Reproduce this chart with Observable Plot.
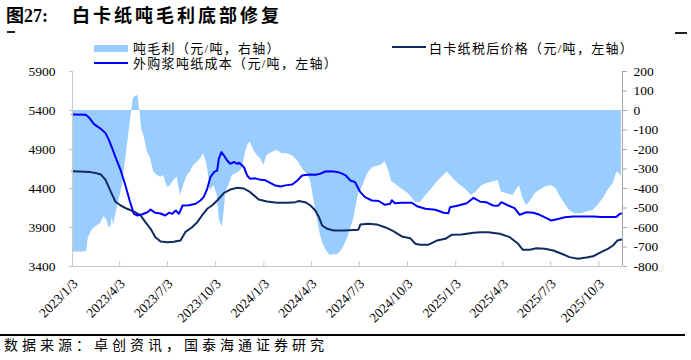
<!DOCTYPE html>
<html><head><meta charset="utf-8">
<script src="https://cdn.jsdelivr.net/npm/d3@7"></script>
<script src="https://cdn.jsdelivr.net/npm/@observablehq/plot@0.6"></script>
<style>
body{margin:0;background:#fff;}
#wrap{position:relative;width:691px;height:360px;overflow:hidden;font-family:"Liberation Serif","Noto Sans CJK SC",serif;color:#000;}
#wrap svg{position:absolute;left:0;top:0;}
.abs{position:absolute;white-space:nowrap;z-index:2;}
.leg{font-size:13px;line-height:14px;letter-spacing:1.3px;color:#000;}
</style></head><body><div id="wrap">
<div class="abs" style="left:6px;top:6px;font-size:18px;line-height:20px;font-weight:bold;">图27:</div>
<div class="abs" style="left:72px;top:6px;font-size:18px;line-height:20px;font-weight:bold;letter-spacing:3px;">白卡纸吨毛利底部修复</div>
<div class="abs" style="left:7px;top:31px;width:8px;height:2px;background:#222;"></div>
<div class="abs" style="left:675px;top:32px;width:12px;height:2px;background:#222;"></div>
<div class="abs" style="left:94px;top:45px;width:34px;height:7px;background:#99CCFF;"></div>
<div class="abs leg" style="left:133px;top:42px;">吨毛利（元/吨，右轴）</div>
<div class="abs" style="left:94px;top:62px;width:34px;height:2px;background:#0000FF;"></div>
<div class="abs leg" style="left:133px;top:57px;">外购浆吨纸成本（元/吨，左轴）</div>
<div class="abs" style="left:392px;top:46px;width:34px;height:2px;background:#0F2B5F;"></div>
<div class="abs leg" style="left:429px;top:42px;">白卡纸税后价格（元/吨，左轴）</div>
<div class="abs" style="left:0px;top:334px;width:685px;height:2px;background:#000;"></div>
<div class="abs" style="left:4px;top:338px;font-size:14px;line-height:15px;letter-spacing:4px;">数据来源：卓创资讯，国泰海通证券研究</div>
</div>
<script>
const marginDates = ["2023-01-03","2023-01-19","2023-01-30","2023-02-02","2023-02-10","2023-02-20","2023-02-26","2023-03-04","2023-03-07","2023-03-10","2023-03-13","2023-03-17","2023-03-20","2023-03-22","2023-03-26","2023-04-01","2023-04-08","2023-04-14","2023-04-20","2023-04-26","2023-04-29","2023-05-03","2023-05-08","2023-05-11","2023-05-15","2023-05-19","2023-05-26","2023-06-01","2023-06-07","2023-06-14","2023-06-20","2023-06-26","2023-07-03","2023-07-09","2023-07-15","2023-07-22","2023-07-25","2023-07-28","2023-08-03","2023-08-10","2023-08-16","2023-08-22","2023-08-29","2023-09-04","2023-09-10","2023-09-17","2023-09-23","2023-09-30","2023-10-06","2023-10-10","2023-10-16","2023-10-20","2023-10-22","2023-10-28","2023-11-04","2023-11-10","2023-11-16","2023-11-23","2023-11-29","2023-12-03","2023-12-08","2023-12-15","2023-12-21","2023-12-28","2024-01-03","2024-01-09","2024-01-19","2024-01-28","2024-02-07","2024-02-16","2024-02-26","2024-03-07","2024-03-13","2024-03-19","2024-03-26","2024-04-01","2024-04-07","2024-04-14","2024-04-20","2024-04-26","2024-05-03","2024-05-09","2024-05-15","2024-05-22","2024-05-28","2024-06-03","2024-06-10","2024-06-16","2024-06-22","2024-06-28","2024-07-02","2024-07-08","2024-07-18","2024-07-24","2024-07-31","2024-08-09","2024-08-15","2024-08-21","2024-08-28","2024-09-03","2024-09-09","2024-09-22","2024-10-05","2024-10-18","2024-10-27","2024-11-06","2024-11-18","2024-12-01","2024-12-14","2024-12-18","2024-12-26","2025-01-08","2025-01-21","2025-02-02","2025-02-12","2025-02-22","2025-03-06","2025-03-15","2025-03-25","2025-03-31","2025-04-10","2025-04-22","2025-05-02","2025-05-05","2025-05-11","2025-05-18","2025-05-24","2025-06-03","2025-06-12","2025-06-22","2025-07-04","2025-07-14","2025-07-20","2025-07-30","2025-08-08","2025-08-18","2025-08-31","2025-09-09","2025-09-22","2025-10-01","2025-10-11","2025-10-20","2025-10-30","2025-11-05","2025-11-09","2025-11-15"];
const marginValues = [-725,-726,-724,-656,-610,-590,-578,-545,-554,-565,-598,-600,-547,-590,-540,-470,-385,-260,-130,0,60,73,77,10,-94,-128,-214,-248,-316,-333,-342,-333,-393,-385,-359,-342,-393,-436,-385,-333,-316,-282,-265,-248,-222,-282,-410,-385,-436,-560,-598,-500,-419,-385,-333,-325,-316,-299,-214,-180,-162,-205,-231,-248,-282,-231,-214,-205,-222,-222,-231,-256,-282,-308,-325,-360,-453,-556,-641,-692,-726,-744,-740,-738,-725,-700,-660,-610,-560,-480,-420,-400,-330,-305,-290,-285,-280,-262,-308,-367,-375,-402,-427,-470,-472,-440,-402,-359,-325,-315,-340,-376,-402,-436,-415,-385,-372,-367,-359,-419,-425,-436,-393,-390,-450,-487,-470,-427,-410,-393,-385,-402,-436,-478,-513,-530,-530,-521,-513,-487,-453,-410,-376,-325,-316,-340];

const priceDates = ["2023-01-03","2023-02-06","2023-02-16","2023-02-26","2023-03-07","2023-03-17","2023-03-26","2023-04-05","2023-04-17","2023-04-30","2023-05-13","2023-05-22","2023-06-01","2023-06-10","2023-06-20","2023-07-03","2023-07-15","2023-07-28","2023-08-06","2023-08-19","2023-08-29","2023-09-07","2023-09-17","2023-09-26","2023-10-06","2023-10-19","2023-10-31","2023-11-13","2023-11-26","2023-12-08","2023-12-24","2024-01-09","2024-01-28","2024-02-16","2024-03-03","2024-03-10","2024-03-22","2024-04-01","2024-04-10","2024-04-17","2024-04-23","2024-05-03","2024-05-15","2024-06-03","2024-06-13","2024-07-01","2024-07-05","2024-07-20","2024-08-05","2024-08-21","2024-09-06","2024-09-22","2024-10-08","2024-10-18","2024-10-27","2024-11-12","2024-11-28","2024-12-14","2024-12-26","2025-01-14","2025-02-06","2025-02-19","2025-03-06","2025-03-28","2025-04-16","2025-05-02","2025-05-11","2025-05-24","2025-06-06","2025-06-22","2025-07-08","2025-07-24","2025-08-08","2025-08-24","2025-09-09","2025-09-22","2025-10-07","2025-10-20","2025-10-30","2025-11-07","2025-11-15"];
const priceValues = [4620,4610,4600,4580,4510,4360,4230,4182,4140,4105,4054,3968,3883,3776,3720,3712,3718,3733,3840,3904,3968,4054,4140,4182,4246,4345,4387,4409,4400,4353,4259,4233,4217,4217,4225,4240,4225,4182,4118,4032,3926,3883,3862,3862,3866,3871,3938,3947,3940,3904,3853,3785,3763,3691,3678,3680,3733,3755,3806,3810,3832,3840,3840,3819,3776,3691,3614,3614,3635,3628,3605,3563,3520,3499,3515,3530,3584,3627,3669,3733,3746];

const costDates = ["2023-01-03","2023-01-28","2023-02-03","2023-02-13","2023-02-26","2023-03-07","2023-03-13","2023-03-20","2023-03-26","2023-04-05","2023-04-14","2023-04-22","2023-04-30","2023-05-07","2023-05-16","2023-05-26","2023-06-01","2023-06-10","2023-06-20","2023-06-29","2023-07-06","2023-07-12","2023-07-19","2023-07-25","2023-08-01","2023-08-13","2023-08-26","2023-09-04","2023-09-10","2023-09-17","2023-09-23","2023-09-30","2023-10-06","2023-10-09","2023-10-14","2023-10-19","2023-10-25","2023-10-31","2023-11-07","2023-11-13","2023-11-17","2023-11-26","2023-12-02","2023-12-08","2023-12-18","2023-12-28","2024-01-06","2024-01-16","2024-01-25","2024-02-04","2024-02-13","2024-02-26","2024-03-07","2024-03-16","2024-03-29","2024-04-10","2024-04-20","2024-04-29","2024-05-09","2024-05-19","2024-05-28","2024-06-07","2024-06-16","2024-06-25","2024-07-05","2024-07-14","2024-07-27","2024-08-09","2024-08-21","2024-08-31","2024-09-03","2024-09-09","2024-09-22","2024-10-11","2024-10-21","2024-11-06","2024-11-25","2024-12-11","2024-12-20","2024-12-23","2025-01-08","2025-01-24","2025-02-06","2025-02-19","2025-03-02","2025-03-15","2025-03-25","2025-03-31","2025-04-13","2025-04-25","2025-05-05","2025-05-18","2025-05-31","2025-06-12","2025-06-25","2025-07-04","2025-07-17","2025-07-30","2025-08-15","2025-09-03","2025-09-22","2025-10-07","2025-10-23","2025-11-05","2025-11-12","2025-11-15"];
const costValues = [5350,5345,5314,5225,5165,5110,5030,4910,4801,4631,4438,4246,4075,4054,4070,4096,4130,4088,4080,4054,4090,4075,4118,4075,4182,4185,4204,4246,4289,4396,4545,4609,4631,4781,4866,4823,4759,4717,4740,4717,4730,4673,4567,4524,4530,4511,4505,4468,4438,4426,4440,4451,4503,4567,4580,4575,4590,4618,4622,4615,4600,4567,4503,4481,4353,4289,4246,4240,4191,4205,4250,4210,4217,4217,4173,4140,4127,4090,4084,4160,4182,4212,4281,4230,4225,4182,4180,4225,4182,4148,4063,4096,4090,4063,4020,3990,4010,4032,4040,4040,4040,4035,4035,4035,4075,4080];

const xTickLabels = ["2023-01-03","2023-04-03","2023-07-03","2023-10-03","2024-01-03","2024-04-03","2024-07-03","2024-10-03","2025-01-03","2025-04-03","2025-07-03","2025-10-03"];
const leftTicks = [3400,3900,4400,4900,5400,5900];
const rightTicks = [200,100,0,-100,-200,-300,-400,-500,-600,-700,-800];

const parse = d3.utcParse("%Y-%m-%d");
const margin = marginDates.map((d,i)=>({date:parse(d), v:marginValues[i]}));
const price = priceDates.map((d,i)=>({date:parse(d), v:priceValues[i]}));
const cost = costDates.map((d,i)=>({date:parse(d), v:costValues[i]}));
const xTicks = xTickLabels.map(parse);
const start = parse("2023-01-03"), end = parse("2025-11-17");
// right axis (-800..200) mapped onto left axis (3400..5900)
const toLeft = v => 5400 + v * 2.5;
const fromLeft = y => Math.round((y - 5400) / 2.5);
const fmt = d3.utcFormat("%Y/%-m/%-d");

const chart = Plot.plot({
  width: 691, height: 360,
  marginLeft: 72, marginRight: 69, marginTop: 71, marginBottom: 94,
  style: {fontFamily: '"Liberation Serif", serif', fontSize: "13.5px", color: "#000", background: "transparent", overflow: "visible"},
  x: {type: "utc", domain: [start, end], label: null, axis: null},
  y: {domain: [3400, 5900], label: null},
  marks: [
    Plot.areaY(margin, {x: "date", y1: () => toLeft(0), y2: d => toLeft(d.v), fill: "#99CCFF"}),
    Plot.line(price, {x: "date", y: "v", stroke: "#0F2B5F", strokeWidth: 2}),
    Plot.line(cost, {x: "date", y: "v", stroke: "#0000FF", strokeWidth: 2}),
    Plot.ruleX([start], {stroke: "#C8C8C8"}),
    Plot.ruleX([end], {stroke: "#A6A6A6"}),
    Plot.ruleY([3400], {stroke: "#C8C8C8"}),
    Plot.ruleX(xTicks, {insetTop: 190, stroke: "#C8C8C8"}),
    Plot.axisY(leftTicks, {anchor: "left", tickSize: 3, tickPadding: 14, stroke: "#C8C8C8", fill: "#000", tickFormat: y => String(y)}),
    Plot.axisY(rightTicks.map(toLeft), {anchor: "right", tickSize: 4, tickPadding: 7, stroke: "#A6A6A6", fill: "#000", tickFormat: y => String(fromLeft(y))}),
    Plot.text(xTicks, {x: d => d, frameAnchor: "bottom", text: d => fmt(d), rotate: -45, textAnchor: "end", lineAnchor: "middle", dy: 15, dx: 3, fill: "#000"})
  ]
});
document.getElementById("wrap").appendChild(chart);
</script>
</body></html>
